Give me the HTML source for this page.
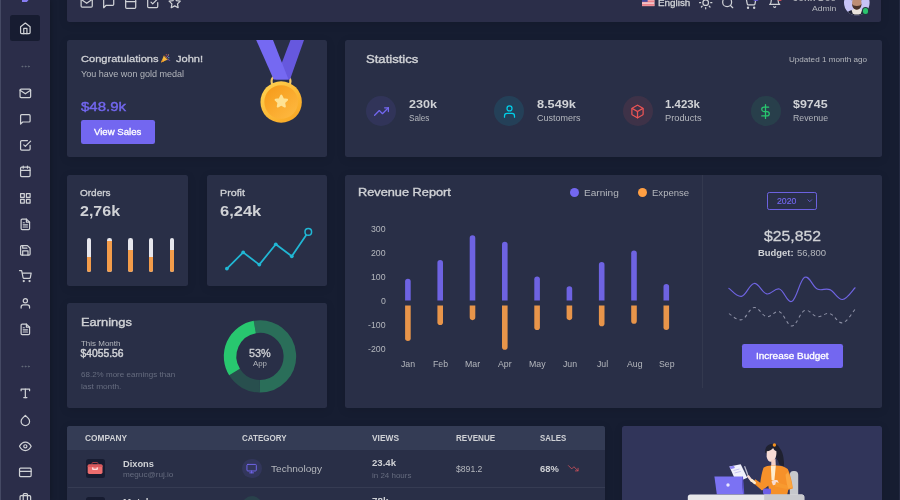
<!DOCTYPE html>
<html lang="en"><head><meta charset="utf-8"><title>Dashboard eCommerce</title><style>
html,body{margin:0;padding:0;background:#161d31;}
body{width:900px;height:500px;overflow:hidden;position:relative;font-family:"Liberation Sans",sans-serif;color:#b4b7bd;}
.side{position:absolute;left:0;top:0;width:50.1px;height:500px;background:#2b2d49;box-shadow:0 0 6px 0 rgba(0,0,0,.3);}
.card{position:absolute;background:#292f47;border-radius:2.5px;box-shadow:0 2px 10px 0 rgba(0,0,0,.1);}
.emo{display:inline-block;height:1em;overflow:hidden;opacity:0;white-space:pre;vertical-align:top;}
.b{position:absolute;}
.ic{position:absolute;overflow:visible;}
.t{position:absolute;white-space:nowrap;line-height:1;transform-origin:0 50%;}
</style></head>
<body>
<div class="side">
<svg class="ic" style="left:21.500px;top:-3px;width:7px;height:5px" viewBox="0 0 7 5"><path d="M0 0h7v2.500L4.800 5H0z" fill="#877cf2"/></svg>
<div class="b" style="left:9.50px;top:15.00px;width:30.80px;height:25.80px;background:#171c31;border-radius:2.5px;"></div>
<svg class="ic" style="left:18.65px;top:21.85px;width:12.70px;height:12.70px;" viewBox="0 0 24 24" fill="none" stroke="#d0d2d6" stroke-width="2.3" stroke-linecap="round" stroke-linejoin="round"><path d="M3 9l9-7 9 7v11a2 2 0 0 1-2 2H5a2 2 0 0 1-2-2z"/><polyline points="9 22 9 12 15 12 15 22"/></svg>
<svg class="ic" style="left:19.50px;top:61.00px;width:11.00px;height:11.00px;" viewBox="0 0 24 24" fill="none" stroke="#676d7d" stroke-width="2" stroke-linecap="round" stroke-linejoin="round"><circle cx="12" cy="12" r="1"/><circle cx="19" cy="12" r="1"/><circle cx="5" cy="12" r="1"/></svg>
<svg class="ic" style="left:18.65px;top:86.55px;width:12.70px;height:12.70px;" viewBox="0 0 24 24" fill="none" stroke="#d0d2d6" stroke-width="2.3" stroke-linecap="round" stroke-linejoin="round"><path d="M4 4h16c1.1 0 2 .9 2 2v12c0 1.1-.9 2-2 2H4c-1.1 0-2-.9-2-2V6c0-1.1.9-2 2-2z"/><polyline points="22,6 12,13 2,6"/></svg>
<svg class="ic" style="left:18.65px;top:112.80px;width:12.70px;height:12.70px;" viewBox="0 0 24 24" fill="none" stroke="#d0d2d6" stroke-width="2.3" stroke-linecap="round" stroke-linejoin="round"><path d="M21 15a2 2 0 0 1-2 2H7l-4 4V5a2 2 0 0 1 2-2h14a2 2 0 0 1 2 2z"/></svg>
<svg class="ic" style="left:18.65px;top:139.05px;width:12.70px;height:12.70px;" viewBox="0 0 24 24" fill="none" stroke="#d0d2d6" stroke-width="2.3" stroke-linecap="round" stroke-linejoin="round"><polyline points="9 11 12 14 22 4"/><path d="M21 12v7a2 2 0 0 1-2 2H5a2 2 0 0 1-2-2V5a2 2 0 0 1 2-2h11"/></svg>
<svg class="ic" style="left:18.65px;top:165.30px;width:12.70px;height:12.70px;" viewBox="0 0 24 24" fill="none" stroke="#d0d2d6" stroke-width="2.3" stroke-linecap="round" stroke-linejoin="round"><rect x="3" y="4" width="18" height="18" rx="2" ry="2"/><line x1="16" y1="2" x2="16" y2="6"/><line x1="8" y1="2" x2="8" y2="6"/><line x1="3" y1="10" x2="21" y2="10"/></svg>
<svg class="ic" style="left:18.65px;top:191.55px;width:12.70px;height:12.70px;" viewBox="0 0 24 24" fill="none" stroke="#d0d2d6" stroke-width="2.3" stroke-linecap="round" stroke-linejoin="round"><rect x="3" y="3" width="7" height="7"/><rect x="14" y="3" width="7" height="7"/><rect x="14" y="14" width="7" height="7"/><rect x="3" y="14" width="7" height="7"/></svg>
<svg class="ic" style="left:18.65px;top:217.80px;width:12.70px;height:12.70px;" viewBox="0 0 24 24" fill="none" stroke="#d0d2d6" stroke-width="2.3" stroke-linecap="round" stroke-linejoin="round"><path d="M14 2H6a2 2 0 0 0-2 2v16a2 2 0 0 0 2 2h12a2 2 0 0 0 2-2V8z"/><polyline points="14 2 14 8 20 8"/><line x1="16" y1="13" x2="8" y2="13"/><line x1="16" y1="17" x2="8" y2="17"/><polyline points="10 9 9 9 8 9"/></svg>
<svg class="ic" style="left:18.65px;top:244.05px;width:12.70px;height:12.70px;" viewBox="0 0 24 24" fill="none" stroke="#d0d2d6" stroke-width="2.3" stroke-linecap="round" stroke-linejoin="round"><path d="M19 21H5a2 2 0 0 1-2-2V5a2 2 0 0 1 2-2h11l5 5v11a2 2 0 0 1-2 2z"/><polyline points="17 21 17 13 7 13 7 21"/><polyline points="7 3 7 8 15 8"/></svg>
<svg class="ic" style="left:18.65px;top:270.30px;width:12.70px;height:12.70px;" viewBox="0 0 24 24" fill="none" stroke="#d0d2d6" stroke-width="2.3" stroke-linecap="round" stroke-linejoin="round"><circle cx="9" cy="21" r="1"/><circle cx="20" cy="21" r="1"/><path d="M1 1h4l2.68 13.39a2 2 0 0 0 2 1.61h9.72a2 2 0 0 0 2-1.61L23 6H6"/></svg>
<svg class="ic" style="left:18.65px;top:296.55px;width:12.70px;height:12.70px;" viewBox="0 0 24 24" fill="none" stroke="#d0d2d6" stroke-width="2.3" stroke-linecap="round" stroke-linejoin="round"><path d="M20 21v-2a4 4 0 0 0-4-4H8a4 4 0 0 0-4 4v2"/><circle cx="12" cy="7" r="4"/></svg>
<svg class="ic" style="left:18.65px;top:322.80px;width:12.70px;height:12.70px;" viewBox="0 0 24 24" fill="none" stroke="#d0d2d6" stroke-width="2.3" stroke-linecap="round" stroke-linejoin="round"><path d="M14 2H6a2 2 0 0 0-2 2v16a2 2 0 0 0 2 2h12a2 2 0 0 0 2-2V8z"/><polyline points="14 2 14 8 20 8"/><line x1="16" y1="13" x2="8" y2="13"/><line x1="16" y1="17" x2="8" y2="17"/><polyline points="10 9 9 9 8 9"/></svg>
<svg class="ic" style="left:19.50px;top:360.90px;width:11.00px;height:11.00px;" viewBox="0 0 24 24" fill="none" stroke="#676d7d" stroke-width="2" stroke-linecap="round" stroke-linejoin="round"><circle cx="12" cy="12" r="1"/><circle cx="19" cy="12" r="1"/><circle cx="5" cy="12" r="1"/></svg>
<svg class="ic" style="left:18.65px;top:387.25px;width:12.70px;height:12.70px;" viewBox="0 0 24 24" fill="none" stroke="#d0d2d6" stroke-width="2.3" stroke-linecap="round" stroke-linejoin="round"><polyline points="4 7 4 4 20 4 20 7"/><line x1="9" y1="20" x2="15" y2="20"/><line x1="12" y1="4" x2="12" y2="20"/></svg>
<svg class="ic" style="left:18.65px;top:413.50px;width:12.70px;height:12.70px;" viewBox="0 0 24 24" fill="none" stroke="#d0d2d6" stroke-width="2.3" stroke-linecap="round" stroke-linejoin="round"><path d="M12 2.69l5.66 5.66a8 8 0 1 1-11.31 0z"/></svg>
<svg class="ic" style="left:18.65px;top:439.75px;width:12.70px;height:12.70px;" viewBox="0 0 24 24" fill="none" stroke="#d0d2d6" stroke-width="2.3" stroke-linecap="round" stroke-linejoin="round"><path d="M1 12s4-8 11-8 11 8 11 8-4 8-11 8-11-8-11-8z"/><circle cx="12" cy="12" r="3"/></svg>
<svg class="ic" style="left:18.65px;top:466.00px;width:12.70px;height:12.70px;" viewBox="0 0 24 24" fill="none" stroke="#d0d2d6" stroke-width="2.3" stroke-linecap="round" stroke-linejoin="round"><rect x="1" y="4" width="22" height="16" rx="2" ry="2"/><line x1="1" y1="10" x2="23" y2="10"/></svg>
<svg class="ic" style="left:18.65px;top:492.25px;width:12.70px;height:12.70px;" viewBox="0 0 24 24" fill="none" stroke="#d0d2d6" stroke-width="2.3" stroke-linecap="round" stroke-linejoin="round"><rect x="2" y="7" width="20" height="14" rx="2" ry="2"/><path d="M16 21V5a2 2 0 0 0-2-2h-4a2 2 0 0 0-2 2v16"/></svg>
</div>
<div class="card" style="left:67.2px;top:-17px;width:813.70px;height:38.70px;background:#2b2e49;"></div>
<svg class="ic" style="left:80.35px;top:-3.90px;width:13.40px;height:13.40px;" viewBox="0 0 24 24" fill="none" stroke="#d0d2d6" stroke-width="2.2" stroke-linecap="round" stroke-linejoin="round"><path d="M4 4h16c1.1 0 2 .9 2 2v12c0 1.1-.9 2-2 2H4c-1.1 0-2-.9-2-2V6c0-1.1.9-2 2-2z"/><polyline points="22,6 12,13 2,6"/></svg>
<svg class="ic" style="left:102.10px;top:-3.90px;width:13.40px;height:13.40px;" viewBox="0 0 24 24" fill="none" stroke="#d0d2d6" stroke-width="2.2" stroke-linecap="round" stroke-linejoin="round"><path d="M21 15a2 2 0 0 1-2 2H7l-4 4V5a2 2 0 0 1 2-2h14a2 2 0 0 1 2 2z"/></svg>
<svg class="ic" style="left:124.20px;top:-3.90px;width:13.40px;height:13.40px;" viewBox="0 0 24 24" fill="none" stroke="#d0d2d6" stroke-width="2.2" stroke-linecap="round" stroke-linejoin="round"><rect x="3" y="4" width="18" height="18" rx="2" ry="2"/><line x1="16" y1="2" x2="16" y2="6"/><line x1="8" y1="2" x2="8" y2="6"/><line x1="3" y1="10" x2="21" y2="10"/></svg>
<svg class="ic" style="left:145.95px;top:-3.90px;width:13.40px;height:13.40px;" viewBox="0 0 24 24" fill="none" stroke="#d0d2d6" stroke-width="2.2" stroke-linecap="round" stroke-linejoin="round"><polyline points="9 11 12 14 22 4"/><path d="M21 12v7a2 2 0 0 1-2 2H5a2 2 0 0 1-2-2V5a2 2 0 0 1 2-2h11"/></svg>
<svg class="ic" style="left:168.20px;top:-3.90px;width:13.40px;height:13.40px;" viewBox="0 0 24 24" fill="none" stroke="#d0d2d6" stroke-width="2.2" stroke-linecap="round" stroke-linejoin="round"><polygon points="12 2 15.09 8.26 22 9.27 17 14.14 18.18 21.02 12 17.77 5.82 21.02 7 14.14 2 9.27 8.91 8.26 12 2"/></svg>
<svg class="ic" style="left:641.7px;top:-2.6px;width:12.5px;height:9.1px" viewBox="0 0 20 14.6"><rect width="20" height="14.6" fill="#f5f5f5"/><rect y="0.00" width="20" height="1.123" fill="#e8505b"/><rect y="2.25" width="20" height="1.123" fill="#e8505b"/><rect y="4.49" width="20" height="1.123" fill="#e8505b"/><rect y="6.74" width="20" height="1.123" fill="#e8505b"/><rect y="8.98" width="20" height="1.123" fill="#e8505b"/><rect y="11.23" width="20" height="1.123" fill="#e8505b"/><rect y="13.48" width="20" height="1.123" fill="#e8505b"/><rect width="9" height="7.8" fill="#41479b"/></svg>
<div class="t" style="left:657.50px;top:-1.00px;font-size:9.19px;color:#d0d2d6;transform:scaleX(1.0752);-webkit-text-stroke:0.3px #d0d2d6;">English</div>
<svg class="ic" style="left:699.20px;top:-4.20px;width:13.40px;height:13.40px;" viewBox="0 0 24 24" fill="none" stroke="#d0d2d6" stroke-width="2.2" stroke-linecap="round" stroke-linejoin="round"><circle cx="12" cy="12" r="5"/><line x1="12" y1="1" x2="12" y2="3"/><line x1="12" y1="21" x2="12" y2="23"/><line x1="4.22" y1="4.22" x2="5.64" y2="5.64"/><line x1="18.36" y1="18.36" x2="19.78" y2="19.78"/><line x1="1" y1="12" x2="3" y2="12"/><line x1="21" y1="12" x2="23" y2="12"/><line x1="4.22" y1="19.78" x2="5.64" y2="18.36"/><line x1="18.36" y1="5.64" x2="19.78" y2="4.22"/></svg>
<svg class="ic" style="left:721.00px;top:-4.20px;width:13.40px;height:13.40px;" viewBox="0 0 24 24" fill="none" stroke="#d0d2d6" stroke-width="2.2" stroke-linecap="round" stroke-linejoin="round"><circle cx="11" cy="11" r="8"/><line x1="21" y1="21" x2="16.65" y2="16.65"/></svg>
<svg class="ic" style="left:743.30px;top:-4.20px;width:13.40px;height:13.40px;" viewBox="0 0 24 24" fill="none" stroke="#d0d2d6" stroke-width="2.2" stroke-linecap="round" stroke-linejoin="round"><circle cx="9" cy="21" r="1"/><circle cx="20" cy="21" r="1"/><path d="M1 1h4l2.68 13.39a2 2 0 0 0 2 1.61h9.72a2 2 0 0 0 2-1.61L23 6H6"/></svg>
<svg class="ic" style="left:767.80px;top:-4.60px;width:13.40px;height:13.40px;" viewBox="0 0 24 24" fill="none" stroke="#d0d2d6" stroke-width="2.2" stroke-linecap="round" stroke-linejoin="round"><path d="M18 8A6 6 0 0 0 6 8c0 7-3 9-3 9h18s-3-2-3-9"/><path d="M13.73 21a2 2 0 0 1-3.46 0"/></svg>
<div class="b" style="left:753.30px;top:-8.00px;width:5.70px;height:9.10px;background:#6a5fd8;border-radius:2.6px;"></div>
<div class="b" style="left:778.00px;top:-8.00px;width:4.20px;height:9.20px;background:#d9505a;border-radius:2.1px;"></div>
<div class="t" style="left:793.40px;top:-6.00px;font-size:9.19px;color:#a9abb3;font-weight:700;transform:scaleX(1.0226);">John Doe</div>
<div class="t" style="left:811.80px;top:5.00px;font-size:7.88px;color:#b4b7bd;transform:scaleX(1.0931);">Admin</div>
<svg class="ic" style="left:843.6px;top:-10.1px;width:25.6px;height:25.6px" viewBox="843.6 -10.1 25.6 25.6"><defs><clipPath id="av"><circle cx="856.4" cy="2.7" r="12.8"/></clipPath></defs><g clip-path="url(#av)"><rect x="843" y="-11" width="27" height="27" fill="#c6c3f6"/><path d="M846 16c0-4.500 3-6.300 10.400-6.300s10.400 1.800 10.400 6.300z" fill="#1f2233"/><path d="M851.200 10.200c1.500-1.200 3-1.600 5.200-1.600s3.700.400 5.200 1.600l-1.200 3.400c-1.200.600-2.500.800-4 .800s-2.800-.200-4-.800z" fill="#e9e3dc"/><ellipse cx="856.400" cy="3" rx="4.700" ry="6.300" fill="#bd8d74"/><path d="M851.700 3.500c0 4 2 6.200 4.700 6.200s4.700-2.200 4.700-6.200c-.700 1.800-2 2.500-4.700 2.500s-4-.700-4.700-2.500z" fill="#49322a"/><path d="M851.500 1c-.500-5 2-7.500 4.900-7.500s5.400 2.500 4.900 7.500c-.600-2.500-1.800-4-4.900-4s-4.300 1.500-4.900 4z" fill="#2b1e1b"/></g></svg>
<div class="b" style="left:861.50px;top:7.00px;width:7.60px;height:7.60px;background:#203a3e;border-radius:4px;"></div>
<div class="b" style="left:862.50px;top:8.00px;width:5.60px;height:5.60px;background:#2bc46e;border-radius:3px;"></div>
<div class="card" style="left:67.3px;top:39.5px;width:259.90px;height:117.60px;"></div>
<div class="t" style="left:80.60px;top:54.00px;font-size:9.97px;color:#d0d2d6;-webkit-text-stroke:0.3px #d0d2d6;transform:scaleX(1.1106);">Congratulations<span class="emo" style="width:15.67px"> 🎉 </span>John!</div>
<svg class="ic" role="img" aria-label="party popper" style="left:160.4px;top:52.8px;width:10.4px;height:10.4px" viewBox="0 0 20 20"><path d="M2 18.500L7.200 5.500l7.300 7.300z" fill="#f6b73c"/><path d="M2 18.500l2.300-5.800 3.500 3.500z" fill="#e8912a"/><path d="M7.200 5.500c2.500.300 6.500 4 7.300 7.300" fill="none" stroke="#d98324" stroke-width="1.400"/><circle cx="12" cy="3.500" r="1.100" fill="#f25f5c"/><circle cx="17" cy="9" r="1.100" fill="#5bc0eb"/><circle cx="16" cy="3.500" r="1" fill="#f6b73c"/><path d="M13 8c1.500-.500 2.500-1.500 3-3M15.500 13c1.200-.300 2.300 0 3 1" fill="none" stroke="#c77dff" stroke-width="1.200" stroke-linecap="round"/></svg>
<div class="t" style="left:80.60px;top:70.00px;font-size:8.40px;color:#b4b7bd;transform:scaleX(1.0783);">You have won gold medal</div>
<div class="t" style="left:80.60px;top:100.00px;font-size:13.23px;color:#7367f0;transform:scaleX(1.1329);-webkit-text-stroke:0.4px #7367f0;">$48.9k</div>
<div class="b" style="left:80.60px;top:120.00px;width:74.00px;height:23.60px;background:#7367f0;border-radius:2.25px;"></div>
<div class="t" style="left:94.00px;top:128.00px;font-size:9.19px;color:#ffffff;transform:scaleX(1.0468);-webkit-text-stroke:0.3px #ffffff;">View Sales</div>
<svg class="ic" style="left:250px;top:39.5px;width:60px;height:86px" viewBox="250 39.5 60 86"><defs><linearGradient id="gm" x1="0.15" y1="0.1" x2="0.85" y2="0.9"><stop offset="0" stop-color="#ffcf4d"/><stop offset="1" stop-color="#f9a825"/></linearGradient><linearGradient id="gm2" x1="0.15" y1="0.1" x2="0.85" y2="0.9"><stop offset="0" stop-color="#f79d1c"/><stop offset="1" stop-color="#fdb73e"/></linearGradient></defs><rect x="271.600" y="76.200" width="18.800" height="9" rx="4" fill="none" stroke="#f2c768" stroke-width="2.200"/><path d="M290.500 39.500h13.500L290 79h-14.500z" fill="#6658de"/><path d="M256.200 39.500h16.800l15.500 39.500h-14.800z" fill="#7569f2"/><circle cx="281.150" cy="101.500" r="20.700" fill="url(#gm)"/><circle cx="281.150" cy="101.500" r="16.800" fill="url(#gm2)"/><path d="M281.300 95l1.800 3.700 4 .600-2.900 2.800.700 4-3.600-1.900-3.600 1.900.700-4-2.900-2.800 4-.600z" fill="#fee293" stroke="#fee293" stroke-width="1.900" stroke-linejoin="round"/></svg>
<div class="card" style="left:345px;top:39.5px;width:536.80px;height:117.60px;"></div>
<div class="t" style="left:365.60px;top:53.00px;font-size:11.65px;color:#d0d2d6;transform:scaleX(1.1237);-webkit-text-stroke:0.4px #d0d2d6;">Statistics</div>
<div class="t" style="left:788.60px;top:56.00px;font-size:7.35px;color:#b4b7bd;transform:scaleX(1.1034);">Updated 1 month ago</div>
<div class="b" style="left:366.00px;top:96.00px;width:30.00px;height:30.00px;background:rgba(115,103,240,0.11);border-radius:15px;"></div>
<svg class="ic" style="left:373.50px;top:103.50px;width:15.00px;height:15.00px;" viewBox="0 0 24 24" fill="none" stroke="#7367f0" stroke-width="2" stroke-linecap="round" stroke-linejoin="round"><polyline points="23 6 13.5 15.5 8.5 10.5 1 18"/><polyline points="17 6 23 6 23 12"/></svg>
<div class="t" style="left:409.00px;top:99.00px;font-size:11.81px;color:#d0d2d6;font-weight:700;transform:scaleX(1.0655);">230k</div>
<div class="t" style="left:409.00px;top:114.00px;font-size:8.72px;color:#b4b7bd;transform:scaleX(0.9358);">Sales</div>
<div class="b" style="left:494.20px;top:96.00px;width:30.00px;height:30.00px;background:rgba(0,207,232,0.11);border-radius:15px;"></div>
<svg class="ic" style="left:501.70px;top:103.50px;width:15.00px;height:15.00px;" viewBox="0 0 24 24" fill="none" stroke="#00cfe8" stroke-width="2" stroke-linecap="round" stroke-linejoin="round"><path d="M20 21v-2a4 4 0 0 0-4-4H8a4 4 0 0 0-4 4v2"/><circle cx="12" cy="7" r="4"/></svg>
<div class="t" style="left:537.00px;top:99.00px;font-size:11.81px;color:#d0d2d6;font-weight:700;transform:scaleX(1.0794);">8.549k</div>
<div class="t" style="left:537.00px;top:114.00px;font-size:8.72px;color:#b4b7bd;transform:scaleX(1.0301);">Customers</div>
<div class="b" style="left:622.50px;top:96.00px;width:30.00px;height:30.00px;background:rgba(234,84,85,0.11);border-radius:15px;"></div>
<svg class="ic" style="left:630.00px;top:103.50px;width:15.00px;height:15.00px;" viewBox="0 0 24 24" fill="none" stroke="#ea5455" stroke-width="2" stroke-linecap="round" stroke-linejoin="round"><path d="M21 16V8a2 2 0 0 0-1-1.73l-7-4a2 2 0 0 0-2 0l-7 4A2 2 0 0 0 3 8v8a2 2 0 0 0 1 1.73l7 4a2 2 0 0 0 2 0l7-4A2 2 0 0 0 21 16z"/><polyline points="3.27 6.96 12 12.01 20.73 6.96"/><line x1="12" y1="22.08" x2="12" y2="12"/></svg>
<div class="t" style="left:665.00px;top:99.00px;font-size:11.81px;color:#d0d2d6;font-weight:700;transform:scaleX(0.9687);">1.423k</div>
<div class="t" style="left:665.00px;top:114.00px;font-size:8.72px;color:#b4b7bd;transform:scaleX(1.0613);">Products</div>
<div class="b" style="left:750.70px;top:96.00px;width:30.00px;height:30.00px;background:rgba(40,199,111,0.11);border-radius:15px;"></div>
<svg class="ic" style="left:758.20px;top:103.50px;width:15.00px;height:15.00px;" viewBox="0 0 24 24" fill="none" stroke="#28c76f" stroke-width="2" stroke-linecap="round" stroke-linejoin="round"><line x1="12" y1="1" x2="12" y2="23"/><path d="M17 5H9.5a3.5 3.5 0 0 0 0 7h5a3.5 3.5 0 0 1 0 7H6"/></svg>
<div class="t" style="left:793.40px;top:99.00px;font-size:11.81px;color:#d0d2d6;font-weight:700;transform:scaleX(1.0533);">$9745</div>
<div class="t" style="left:793.40px;top:114.00px;font-size:8.72px;color:#b4b7bd;transform:scaleX(1.0033);">Revenue</div>
<div class="card" style="left:67.3px;top:174.5px;width:121.10px;height:111.10px;"></div>
<div class="t" style="left:80.40px;top:189.00px;font-size:9.19px;color:#d0d2d6;transform:scaleX(1.0898);-webkit-text-stroke:0.3px #d0d2d6;">Orders</div>
<div class="t" style="left:80.40px;top:204.00px;font-size:14.80px;color:#d0d2d6;font-weight:700;transform:scaleX(1.0824);">2,76k</div>
<div class="b" style="left:86.70px;top:237.70px;width:4.60px;height:34.50px;background:#e6e6ec;border-radius:2.3px;"></div>
<div class="b" style="left:86.70px;top:256.68px;width:4.60px;height:15.52px;background:#f39c4a;border-radius:0px;border-radius:0 0 2.3px 2.3px;"></div>
<div class="b" style="left:107.40px;top:237.70px;width:4.60px;height:34.50px;background:#e6e6ec;border-radius:2.3px;"></div>
<div class="b" style="left:107.40px;top:241.15px;width:4.60px;height:31.05px;background:#f39c4a;border-radius:0px;border-radius:0 0 2.3px 2.3px;"></div>
<div class="b" style="left:128.10px;top:237.70px;width:4.60px;height:34.50px;background:#e6e6ec;border-radius:2.3px;"></div>
<div class="b" style="left:128.10px;top:249.77px;width:4.60px;height:22.43px;background:#f39c4a;border-radius:0px;border-radius:0 0 2.3px 2.3px;"></div>
<div class="b" style="left:148.80px;top:237.70px;width:4.60px;height:34.50px;background:#e6e6ec;border-radius:2.3px;"></div>
<div class="b" style="left:148.80px;top:256.68px;width:4.60px;height:15.52px;background:#f39c4a;border-radius:0px;border-radius:0 0 2.3px 2.3px;"></div>
<div class="b" style="left:169.50px;top:237.70px;width:4.60px;height:34.50px;background:#e6e6ec;border-radius:2.3px;"></div>
<div class="b" style="left:169.50px;top:249.77px;width:4.60px;height:22.43px;background:#f39c4a;border-radius:0px;border-radius:0 0 2.3px 2.3px;"></div>
<div class="card" style="left:206.6px;top:174.5px;width:120.60px;height:111.10px;"></div>
<div class="t" style="left:219.70px;top:189.00px;font-size:9.19px;color:#d0d2d6;transform:scaleX(1.1658);-webkit-text-stroke:0.3px #d0d2d6;">Profit</div>
<div class="t" style="left:219.70px;top:204.00px;font-size:14.80px;color:#d0d2d6;font-weight:700;transform:scaleX(1.1147);">6,24k</div>
<svg class="ic" style="left:206.6px;top:174.4px;width:120.9px;height:111.2px" viewBox="206.6 174.4 120.9 111.2"><polyline points="226.5,269 242.8,252.8 258.9,265 275.4,244.7 291.4,256.7 307.9,232.3" fill="none" stroke="#21b7d4" stroke-width="1.750" stroke-linejoin="round" stroke-linecap="round"/><circle cx="226.5" cy="269" r="1.900" fill="#21b7d4"/><circle cx="242.8" cy="252.8" r="1.900" fill="#21b7d4"/><circle cx="258.9" cy="265" r="1.900" fill="#21b7d4"/><circle cx="275.4" cy="244.7" r="1.900" fill="#21b7d4"/><circle cx="291.4" cy="256.7" r="1.900" fill="#21b7d4"/><circle cx="307.9" cy="232.3" r="3.300" fill="#292f47" stroke="#21b7d4" stroke-width="1.500"/></svg>
<div class="card" style="left:67.3px;top:303px;width:259.90px;height:105.00px;"></div>
<div class="t" style="left:80.60px;top:317.00px;font-size:11.81px;color:#d0d2d6;transform:scaleX(1.0918);-webkit-text-stroke:0.4px #d0d2d6;">Earnings</div>
<div class="t" style="left:80.60px;top:340.00px;font-size:8.09px;color:#b4b7bd;transform:scaleX(0.9852);">This Month</div>
<div class="t" style="left:80.60px;top:349.00px;font-size:10.29px;color:#d0d2d6;-webkit-text-stroke:0.45px #d0d2d6;">$4055.56</div>
<div class="t" style="left:80.60px;top:371.00px;font-size:7.88px;color:#666c7f;transform:scaleX(1.0187);">68.2% more earnings than</div>
<div class="t" style="left:80.60px;top:383.00px;font-size:7.88px;color:#666c7f;transform:scaleX(1.0489);">last month.</div>
<svg class="ic" style="left:220px;top:316px;width:80px;height:80px" viewBox="220 316 80 80"><path d="M254.81 326.95A29.90 29.90 0 1 1 259.58 386.30" fill="none" stroke="#2a6e59" stroke-width="12.60"/><path d="M259.58 386.30A29.90 29.90 0 0 1 234.53 372.07" fill="none" stroke="#284f4e" stroke-width="12.60"/><path d="M234.53 372.07A29.90 29.90 0 0 1 254.81 326.95" fill="none" stroke="#28c76f" stroke-width="12.60"/></svg>
<div class="t" style="left:249.20px;top:348.00px;font-size:11.03px;color:#d0d2d6;transform:scaleX(0.9879);-webkit-text-stroke:0.3px #d0d2d6;">53%</div>
<div class="t" style="left:253.20px;top:360.00px;font-size:7.67px;color:#b4b7bd;transform:scaleX(1.0265);">App</div>
<div class="card" style="left:345px;top:174.5px;width:536.80px;height:233.50px;"></div>
<div class="b" style="left:702.00px;top:174.50px;width:0.70px;height:213.80px;background:#33394f;border-radius:0px;"></div>
<div class="t" style="left:358.00px;top:187.00px;font-size:11.81px;color:#d0d2d6;transform:scaleX(1.0811);-webkit-text-stroke:0.4px #d0d2d6;">Revenue Report</div>
<div class="b" style="left:570.10px;top:188.40px;width:8.80px;height:8.80px;background:#7367f0;border-radius:5px;"></div>
<div class="t" style="left:583.60px;top:189.00px;font-size:9.19px;color:#b4b7bd;transform:scaleX(1.0989);">Earning</div>
<div class="b" style="left:638.00px;top:188.40px;width:8.80px;height:8.80px;background:#ff9f43;border-radius:5px;"></div>
<div class="t" style="left:651.50px;top:189.00px;font-size:9.19px;color:#b4b7bd;transform:scaleX(1.0404);">Expense</div>
<div class="t" style="left:371.16px;top:225.00px;font-size:8.40px;color:#b4b7bd;transform:scaleX(1.0446);">300</div>
<div class="t" style="left:371.16px;top:249.00px;font-size:8.40px;color:#b4b7bd;transform:scaleX(1.0446);">200</div>
<div class="t" style="left:371.16px;top:273.00px;font-size:8.40px;color:#b4b7bd;transform:scaleX(1.0446);">100</div>
<div class="t" style="left:380.92px;top:297.00px;font-size:8.40px;color:#b4b7bd;transform:scaleX(1.0446);">0</div>
<div class="t" style="left:368.24px;top:321.00px;font-size:8.40px;color:#b4b7bd;transform:scaleX(1.0446);">-100</div>
<div class="t" style="left:368.24px;top:345.00px;font-size:8.40px;color:#b4b7bd;transform:scaleX(1.0446);">-200</div>
<svg class="ic" style="left:390px;top:220px;width:300px;height:140px" viewBox="390 220 300 140"><path d="M405.10 300.6V281.58a2.8 2.8 0 0 1 5.6 0V300.6z" fill="#6e63e2"/><path d="M405.10 305.4V338.27a2.8 2.8 0 0 0 5.6 0V305.4z" fill="#e8954a"/><path d="M437.40 300.6V262.74a2.8 2.8 0 0 1 5.6 0V300.6z" fill="#6e63e2"/><path d="M437.40 305.4V322.28a2.8 2.8 0 0 0 5.6 0V305.4z" fill="#e8954a"/><path d="M469.70 300.6V238.17a2.8 2.8 0 0 1 5.6 0V300.6z" fill="#6e63e2"/><path d="M469.70 305.4V317.36a2.8 2.8 0 0 0 5.6 0V305.4z" fill="#e8954a"/><path d="M502.00 300.6V244.60a2.8 2.8 0 0 1 5.6 0V300.6z" fill="#6e63e2"/><path d="M502.00 305.4V346.88a2.8 2.8 0 0 0 5.6 0V305.4z" fill="#e8954a"/><path d="M534.30 300.6V279.28a2.8 2.8 0 0 1 5.6 0V300.6z" fill="#6e63e2"/><path d="M534.30 305.4V327.20a2.8 2.8 0 0 0 5.6 0V305.4z" fill="#e8954a"/><path d="M566.60 300.6V288.93a2.8 2.8 0 0 1 5.6 0V300.6z" fill="#6e63e2"/><path d="M566.60 305.4V317.36a2.8 2.8 0 0 0 5.6 0V305.4z" fill="#e8954a"/><path d="M598.90 300.6V264.81a2.8 2.8 0 0 1 5.6 0V300.6z" fill="#6e63e2"/><path d="M598.90 305.4V323.51a2.8 2.8 0 0 0 5.6 0V305.4z" fill="#e8954a"/><path d="M631.20 300.6V253.33a2.8 2.8 0 0 1 5.6 0V300.6z" fill="#6e63e2"/><path d="M631.20 305.4V321.05a2.8 2.8 0 0 0 5.6 0V305.4z" fill="#e8954a"/><path d="M663.50 300.6V286.86a2.8 2.8 0 0 1 5.6 0V300.6z" fill="#6e63e2"/><path d="M663.50 305.4V327.20a2.8 2.8 0 0 0 5.6 0V305.4z" fill="#e8954a"/></svg>
<div class="t" style="left:401.33px;top:360.00px;font-size:8.40px;color:#b4b7bd;transform:scaleX(1.0446);">Jan</div>
<div class="t" style="left:433.14px;top:360.00px;font-size:8.40px;color:#b4b7bd;transform:scaleX(1.0446);">Feb</div>
<div class="t" style="left:465.44px;top:360.00px;font-size:8.40px;color:#b4b7bd;transform:scaleX(1.0446);">Mar</div>
<div class="t" style="left:498.47px;top:360.00px;font-size:8.40px;color:#b4b7bd;transform:scaleX(1.0446);">Apr</div>
<div class="t" style="left:529.31px;top:360.00px;font-size:8.40px;color:#b4b7bd;transform:scaleX(1.0446);">May</div>
<div class="t" style="left:562.83px;top:360.00px;font-size:8.40px;color:#b4b7bd;transform:scaleX(1.0446);">Jun</div>
<div class="t" style="left:596.59px;top:360.00px;font-size:8.40px;color:#b4b7bd;transform:scaleX(1.0446);">Jul</div>
<div class="t" style="left:626.69px;top:360.00px;font-size:8.40px;color:#b4b7bd;transform:scaleX(1.0446);">Aug</div>
<div class="t" style="left:658.99px;top:360.00px;font-size:8.40px;color:#b4b7bd;transform:scaleX(1.0446);">Sep</div>
<div class="b" style="left:767.30px;top:192.00px;width:49.40px;height:17.60px;background:transparent;border-radius:2.25px;border:0.65px solid #6c62e0;box-sizing:border-box;"></div>
<div class="t" style="left:776.90px;top:198.00px;font-size:8.19px;color:#7367f0;transform:scaleX(1.0648);-webkit-text-stroke:0.15px #7367f0;">2020</div>
<svg class="ic" style="left:805.55px;top:197.25px;width:7.50px;height:7.50px;" viewBox="0 0 24 24" fill="none" stroke="#7367f0" stroke-width="2.4" stroke-linecap="round" stroke-linejoin="round"><polyline points="6 9 12 15 18 9"/></svg>
<div class="t" style="left:763.70px;top:228.00px;font-size:15.33px;color:#d0d2d6;transform:scaleX(1.0304);-webkit-text-stroke:0.3px #d0d2d6;">$25,852</div>
<div class="t" style="left:758.40px;top:249.00px;font-size:9.19px;color:#d0d2d6;font-weight:700;transform:scaleX(1.0259);">Budget:</div>
<div class="t" style="left:797.20px;top:249.00px;font-size:9.19px;color:#b4b7bd;transform:scaleX(1.0356);">56,800</div>
<svg class="ic" style="left:720px;top:270px;width:145px;height:62px" viewBox="720 270 145 62"><path d="M728.90 288.38C731.30 289.90 736.72 297.31 741.52 296.38C746.32 295.45 749.34 283.93 754.14 283.46C758.94 283.00 761.96 292.87 766.76 293.92C771.56 294.97 774.58 287.60 779.38 289.00C784.18 290.40 787.20 303.52 792.00 301.30C796.80 299.08 799.82 279.65 804.62 277.31C809.42 274.98 812.44 286.66 817.24 289.00C822.04 291.34 825.06 287.63 829.86 289.62C834.66 291.60 837.68 299.81 842.48 299.45C847.28 299.10 852.70 289.99 855.10 287.77" fill="none" stroke="#6f64e2" stroke-width="1.150" stroke-linecap="round"/><path d="M728.90 313.60C731.30 314.77 736.72 320.92 741.52 319.75C746.32 318.58 749.34 308.03 754.14 307.45C758.94 306.87 761.96 315.86 766.76 316.67C771.56 317.49 774.58 310.00 779.38 311.75C784.18 313.51 787.20 326.13 792.00 325.90C796.80 325.67 799.82 312.28 804.62 310.52C809.42 308.77 812.44 316.09 817.24 316.67C822.04 317.26 825.06 312.43 829.86 313.60C834.66 314.77 837.68 323.64 842.48 322.82C847.28 322.01 852.70 311.87 855.10 309.29" fill="none" stroke="#8e91a6" stroke-width="1.050" stroke-dasharray="3.100 3.100"/></svg>
<div class="b" style="left:742.10px;top:344.20px;width:100.50px;height:23.80px;background:#7367f0;border-radius:2.25px;"></div>
<div class="t" style="left:756.00px;top:352.00px;font-size:9.19px;color:#ffffff;transform:scaleX(1.0865);-webkit-text-stroke:0.3px #ffffff;">Increase Budget</div>
<div class="card" style="left:67.3px;top:426px;width:537.30px;height:94.00px;overflow:hidden;"></div>
<div class="b" style="left:67.30px;top:426.00px;width:537.30px;height:23.60px;background:#343c55;border-radius:0px;border-radius:2.5px 2.5px 0 0;"></div>
<div class="t" style="left:85.00px;top:434.00px;font-size:8.82px;color:#d0d2d6;font-weight:700;transform:scaleX(0.9454);">COMPANY</div>
<div class="t" style="left:242.40px;top:434.00px;font-size:8.82px;color:#d0d2d6;font-weight:700;transform:scaleX(0.9102);">CATEGORY</div>
<div class="t" style="left:371.60px;top:434.00px;font-size:8.82px;color:#d0d2d6;font-weight:700;transform:scaleX(0.9499);">VIEWS</div>
<div class="t" style="left:456.20px;top:434.00px;font-size:8.82px;color:#d0d2d6;font-weight:700;transform:scaleX(0.9193);">REVENUE</div>
<div class="t" style="left:540.10px;top:434.00px;font-size:8.82px;color:#d0d2d6;font-weight:700;transform:scaleX(0.8910);">SALES</div>
<div class="b" style="left:67.50px;top:487.30px;width:537.10px;height:0.70px;background:#363c53;border-radius:0px;"></div>
<div class="b" style="left:85.50px;top:458.50px;width:19.10px;height:19.10px;background:#171c31;border-radius:2.5px;"></div>
<svg class="ic" style="left:87px;top:460px;width:16px;height:16px" viewBox="87 460 16 16"><path d="M92 464.500v-1a1 1 0 0 1 1-1h4a1 1 0 0 1 1 1v1" fill="none" stroke="#9c3d45" stroke-width="1"/><rect x="87.700" y="464.600" width="14.800" height="9.300" rx="1.600" fill="#ec6d6e"/><rect x="87.700" y="464.600" width="14.800" height="2.400" rx="1.200" fill="#d9585c"/><path d="M92.800 467.800v1.500h4.400v-1.500" fill="none" stroke="#fff" stroke-width="1.100" stroke-linecap="round" stroke-linejoin="round"/></svg>
<div class="t" style="left:122.60px;top:460.00px;font-size:9.19px;color:#d0d2d6;font-weight:700;transform:scaleX(1.0120);">Dixons</div>
<div class="t" style="left:122.60px;top:471.00px;font-size:7.88px;color:#666c7f;transform:scaleX(1.0349);">meguc@ruj.io</div>
<div class="b" style="left:242.30px;top:458.70px;width:19.40px;height:19.40px;background:rgba(115,103,240,0.12);border-radius:10px;"></div>
<svg class="ic" style="left:246.38px;top:462.77px;width:11.25px;height:11.25px;" viewBox="0 0 24 24" fill="none" stroke="#7367f0" stroke-width="2" stroke-linecap="round" stroke-linejoin="round"><rect x="2" y="3" width="20" height="14" rx="2" ry="2"/><line x1="8" y1="21" x2="16" y2="21"/><line x1="12" y1="17" x2="12" y2="21"/></svg>
<div class="t" style="left:271.40px;top:465.00px;font-size:9.19px;color:#b4b7bd;transform:scaleX(1.0972);">Technology</div>
<div class="t" style="left:371.60px;top:459.00px;font-size:9.19px;color:#d0d2d6;font-weight:700;transform:scaleX(1.0439);">23.4k</div>
<div class="t" style="left:371.60px;top:472.00px;font-size:7.88px;color:#666c7f;transform:scaleX(1.0112);">in 24 hours</div>
<div class="t" style="left:456.20px;top:465.00px;font-size:9.19px;color:#b4b7bd;transform:scaleX(0.9395);">$891.2</div>
<div class="t" style="left:540.10px;top:465.00px;font-size:9.19px;color:#d0d2d6;font-weight:700;transform:scaleX(1.0278);">68%</div>
<svg class="ic" style="left:568.05px;top:463.15px;width:10.50px;height:10.50px;" viewBox="0 0 24 24" fill="none" stroke="#d8535c" stroke-width="1.8" stroke-linecap="round" stroke-linejoin="round"><polyline points="23 18 13.5 8.5 8.5 13.5 1 6"/><polyline points="17 18 23 18 23 12"/></svg>
<div class="b" style="left:85.50px;top:496.50px;width:19.10px;height:19.10px;background:#171c31;border-radius:2.5px;"></div>
<svg class="ic" style="left:89.500px;top:498.500px;width:11.500px;height:14px" viewBox="0 0 20 24"><path d="M10 1c4 3 7 7 7 12a7 7 0 0 1-14 0c0-5 3-9 7-12z" fill="#7b3b74"/></svg>
<div class="t" style="left:122.60px;top:498.00px;font-size:9.19px;color:#d0d2d6;font-weight:700;transform:scaleX(1.0654);">Motels</div>
<div class="b" style="left:242.00px;top:496.40px;width:20.00px;height:20.00px;background:rgba(40,199,111,0.12);border-radius:10px;"></div>
<svg class="ic" style="left:246.38px;top:500.77px;width:11.25px;height:11.25px;" viewBox="0 0 24 24" fill="none" stroke="#28c76f" stroke-width="2" stroke-linecap="round" stroke-linejoin="round"><path d="M18 8h1a4 4 0 0 1 0 8h-1"/><path d="M2 8h16v9a4 4 0 0 1-4 4H6a4 4 0 0 1-4-4V8z"/><line x1="6" y1="1" x2="6" y2="4"/><line x1="10" y1="1" x2="10" y2="4"/><line x1="14" y1="1" x2="14" y2="4"/></svg>
<div class="t" style="left:271.40px;top:503.00px;font-size:9.19px;color:#b4b7bd;transform:scaleX(1.1508);">Grocery</div>
<div class="t" style="left:371.60px;top:497.00px;font-size:9.19px;color:#d0d2d6;font-weight:700;transform:scaleX(1.0699);">78k</div>
<div class="t" style="left:456.20px;top:503.00px;font-size:9.19px;color:#b4b7bd;transform:scaleX(0.9575);">$668.51</div>
<div class="t" style="left:540.10px;top:503.00px;font-size:9.19px;color:#d0d2d6;font-weight:700;transform:scaleX(1.0278);">97%</div>
<div class="card" style="left:622.3px;top:425.8px;width:259.50px;height:94.20px;background:#31355a;"></div>
<svg class="ic" style="left:680px;top:436px;width:130px;height:64px" viewBox="680 436 130 64">
<rect x="789.800" y="471" width="8.400" height="26" rx="3.800" fill="#c6c8cc"/>
<path d="M778 447c3 1.500 5 6 5.500 11 .400 3.500.800 6 .300 8.500l-4.500-2-3-9z" fill="#1f2130"/>
<path d="M765.300 453c-.800-5.500 2.500-9.200 7.500-9.200 4.500 0 7.500 3 7.300 8-.100 3.500-1.200 6.500-2.600 8.700l-3.500-7z" fill="#1f2130"/>
<path d="M766.800 451.300c2.500-.300 5-1.500 6.300-3.300.900 1.800 2 2.800 3.300 3.300.300 3.500-.500 6.500-1.800 8.300-1 1.400-2.300 2.100-3.700 2.100-2.100 0-3.700-2-4.300-5z" fill="#f7dcd5"/>
<path d="M771.300 460l4.200-1 .300 7.500h-4.600z" fill="#f3cfc6"/>
<circle cx="774.400" cy="445" r="1.700" fill="#f6921e"/>
<path d="M763.500 467.700c2.200-1.400 5-2.200 8.200-2.200h4.500c4.500 0 8.500 1 11.500 3.500 2.500 5 4.500 13 5.200 19.500l-4.600 1.200-1.100 5H770l-1.700-9-6.300 4.800-9.200-8 2.500-3.300 5 3.500c.600-5 1.600-10.500 3.200-15z" fill="#f6912a"/>
<path d="M788 472c2 4.500 3.500 10 4.300 15.500l-4.500 1.200c-1-5-1.800-10-2.300-14z" fill="#fba63f"/>
<path d="M770.800 465.700h5l-1.300 13.500-1.500 1.800-1.500-1.800z" fill="#fdeccf"/>
<path d="M771.500 481.500c1.500-1.500 4-2 6-1.200l1.800 3.700-6.300 1.200z" fill="#f7dcd5"/>
<path d="M776 482l11.500 3.500-.700 3.500-12-2.500z" fill="#f89a2f"/>
<path d="M748.200 476.200l3.400 4.600" stroke="#f7dcd5" stroke-width="2.400" stroke-linecap="round"/>
<path d="M751.800 480.300l2.800 2.500" stroke="#fdeccf" stroke-width="2.800" stroke-linecap="round"/>
<path d="M744.800 466.700l2.800 7.800" stroke="#b9bacb" stroke-width="1.300" stroke-linecap="round"/>
<path d="M729.400 466.600l11.300-2.300 6.600 13.500-5.800 2.400-7.500-3.300z" fill="#f1f1fb"/>
<path d="M729.400 466.600l4.500-.900 1 2.400-4.400 1.100z" fill="#8d84f3"/>
<path d="M733.500 470.500l6-1.500M734.600 473l6.200-1.600" stroke="#c3c0ef" stroke-width=".900"/>
<path d="M714.400 476.500h27.400l1.300 17.700h-26.300z" fill="#7b72f3"/>
<path d="M741.800 476.500l1.300 17.700h1.200l-1.300-17.700z" fill="#5f55d6"/>
<circle cx="728" cy="485" r="1.700" fill="#e8e6ff"/>
<path d="M763 489c1-.800 6.800-.800 8 0v3.500a2.200 2.200 0 0 1-2.200 2.200h-3.600a2.200 2.200 0 0 1-2.200-2.200z" fill="#6d5fe6"/>
<rect x="687.800" y="494.600" width="116.500" height="8" rx="2.500" fill="#e7e7ea"/>
<path d="M764.200 494.600h37.600a2.500 2.500 0 0 1 2.500 2.500v5.500h-40.100z" fill="#c9cace"/>
</svg>
<div class="b" style="left:899.00px;top:0.00px;width:1.00px;height:500.00px;background:#232940;border-radius:0px;"></div>
<div class="b" style="left:0.00px;top:0.00px;width:1.00px;height:500.00px;background:#454964;border-radius:0px;"></div>
</body></html>
